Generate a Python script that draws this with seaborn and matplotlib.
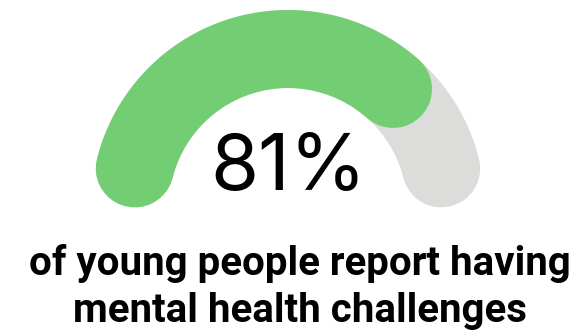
import numpy as np
import matplotlib.pyplot as plt
import seaborn as sns

# --- data ---
value = 81            # percent shown on the gauge
total = 100
label_value = "81%"
caption_lines = ["of young people report having", "mental health challenges"]

colors = {"fill": "#73cd73", "track": "#dcdcdb"}

sns.set_theme(style="white")
plt.rcParams['font.family'] = ['Inter', 'DejaVu Sans']

W, H = 582, 333
fig = plt.figure(figsize=(W / 100, H / 100), dpi=100)
ax = fig.add_axes([0, 0, 1, 1])
ax.set_xlim(0, W)
ax.set_ylim(H, 0)
ax.set_aspect('equal')
ax.axis('off')

# gauge geometry (pixel units): half doughnut from 180 to 0 deg,
# rounded ends sit inside the segment extents
cx, cy, R = 288, 207, 158
half_px = 39
band = 2 * half_px * 0.72      # band width in points
cap = np.degrees(half_px / R)


def arc(frac):
    a0 = 180 - cap
    a1 = 180 - 180 * frac + cap
    ang = np.radians(np.linspace(a0, a1, 200))
    return cx + R * np.cos(ang), cy - R * np.sin(ang)


x, y = arc(1.0)
ax.plot(x, y, color=colors["track"], lw=band, solid_capstyle='round')
x, y = arc(value / total)
ax.plot(x, y, color=colors["fill"], lw=band, solid_capstyle='round')

ax.text(cx, 190, label_value, ha='center', va='baseline', fontsize=56,
        color='black', fontweight='normal')

for i, line in enumerate(caption_lines):
    ax.text(300, 275 + i * 47, line, ha='center', va='baseline', fontsize=29,
            fontweight='bold', color='black', family=['Roboto', 'DejaVu Sans'])

fig.savefig('out.png', dpi=100, facecolor='white')
